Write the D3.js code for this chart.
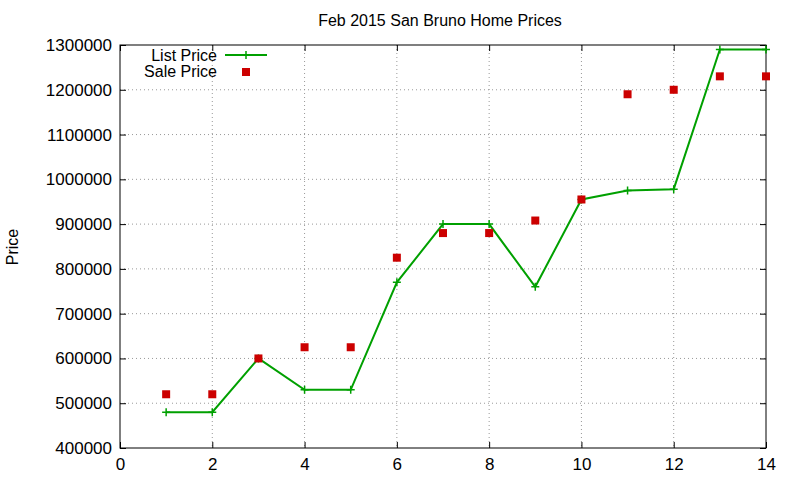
<!DOCTYPE html>
<html><head><meta charset="utf-8">
<script src="https://cdn.jsdelivr.net/npm/d3@7"></script>
<style>body{margin:0;background:#fff}text{font-family:"Liberation Sans",Arial,sans-serif;font-size:16px;fill:#000}</style>
</head><body>
<svg id="chart" width="800" height="480"></svg>
<script>
const days = [1,2,3,4,5,6,7,8,9,10,11,12,13,14];
const listPrice = [480000,480000,600000,530000,530000,770000,900000,900000,760000,955000,975000,978000,1290000,1290000];
const salePrice = [520000,520000,600000,625000,625000,825000,880000,880000,908000,955000,1190000,1200000,1230000,1230000];
const xTicks = [0,2,4,6,8,10,12,14];
const yTicks = d3.range(400000, 1300001, 100000);

const svg = d3.select('#chart');
const m = {l:120, r:766, t:45, b:448};
const x = d3.scaleLinear().domain([0,14]).range([m.l, m.r]);
const y = d3.scaleLinear().domain([400000,1300000]).range([m.b, m.t]);

// grid
svg.append('g').selectAll('line').data(xTicks.slice(1,-1)).join('line')
    .attr('x1', d => x(d)).attr('x2', d => x(d)).attr('y1', m.t).attr('y2', m.b)
    .attr('stroke', '#999').attr('stroke-dasharray', '1,3');
svg.append('g').selectAll('line').data(yTicks.slice(1,-1)).join('line')
    .attr('x1', m.l).attr('x2', m.r).attr('y1', d => y(d)).attr('y2', d => y(d))
    .attr('stroke', '#999').attr('stroke-dasharray', '1,3');

// axes with inward ticks, mirrored
const ax = (g, axis) => g.call(axis).call(g => g.select('.domain').remove())
    .call(g => g.selectAll('line').attr('stroke', '#000'))
    .call(g => g.selectAll('text').style('font-size', '17px').style('font-family', '"Liberation Sans",Arial,sans-serif'));
svg.append('g').attr('transform', `translate(0,${m.b})`)
    .call(g => ax(g, d3.axisBottom(x).tickValues(xTicks).tickSize(-6).tickPadding(10)));
svg.append('g').attr('transform', `translate(0,${m.t})`)
    .call(g => ax(g, d3.axisTop(x).tickValues(xTicks).tickSize(-6).tickFormat('')));
svg.append('g').attr('transform', `translate(${m.l},0)`)
    .call(g => ax(g, d3.axisLeft(y).tickValues(yTicks).tickSize(-6).tickPadding(8).tickFormat(d3.format('d'))));
svg.append('g').attr('transform', `translate(${m.r},0)`)
    .call(g => ax(g, d3.axisRight(y).tickValues(yTicks).tickSize(-6).tickFormat('')));
svg.append('rect').attr('x', m.l).attr('y', m.t).attr('width', m.r - m.l).attr('height', m.b - m.t)
    .attr('fill', 'none').attr('stroke', '#000');

// list price line
const green = '#00a000';
svg.append('path').datum(days)
    .attr('d', d3.line().x(d => x(d)).y((d,i) => y(listPrice[i])))
    .attr('fill', 'none').attr('stroke', green).attr('stroke-width', 2);
const plus = (g, cx, cy) => g.append('path')
    .attr('d', `M${cx-4},${cy}H${cx+4}M${cx},${cy-4}V${cy+4}`).attr('stroke', green).attr('stroke-width', 1.5);
days.forEach((d,i) => plus(svg, x(d), y(listPrice[i])));

// sale price squares
svg.append('g').selectAll('rect').data(days).join('rect')
    .attr('x', d => x(d) - 4).attr('y', (d,i) => y(salePrice[i]) - 4)
    .attr('width', 8).attr('height', 8).attr('fill', '#cc0000');

// legend
svg.append('text').attr('x', 217).attr('y', 61).attr('text-anchor', 'end').text('List Price');
svg.append('line').attr('x1', 225).attr('x2', 267).attr('y1', 55).attr('y2', 55).attr('stroke', green).attr('stroke-width', 2);
plus(svg, 246, 55);
svg.append('text').attr('x', 217).attr('y', 77).attr('text-anchor', 'end').text('Sale Price');
svg.append('rect').attr('x', 242).attr('y', 68).attr('width', 8).attr('height', 8).attr('fill', '#cc0000');

// titles
svg.append('text').attr('x', 440).attr('y', 26).attr('text-anchor', 'middle').text('Feb 2015 San Bruno Home Prices');
svg.append('text').attr('transform', 'translate(18,247) rotate(-90)').attr('text-anchor', 'middle').text('Price');
</script>
</body></html>
